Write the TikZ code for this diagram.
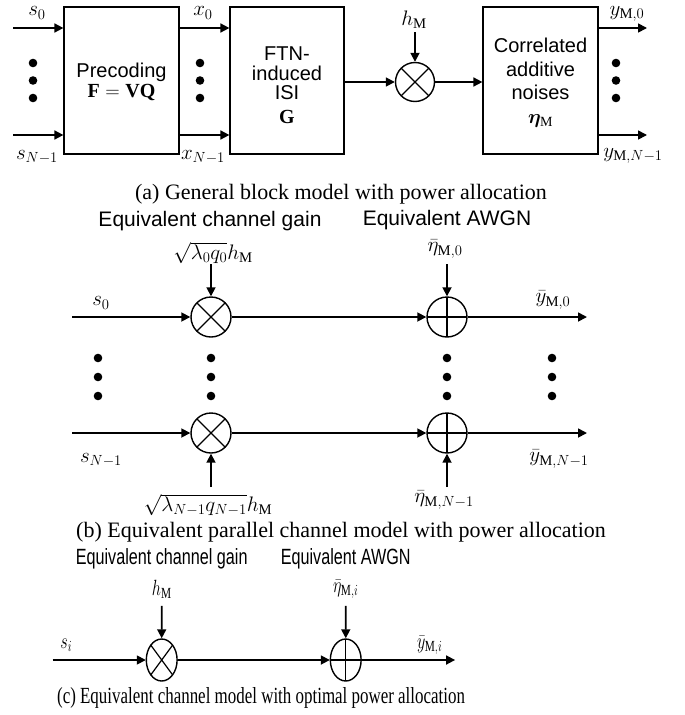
\RequirePackage{fix-cm}
\documentclass[tikz,border=0pt]{standalone}
\usepackage{amsmath,bm}
\usepackage{fontspec}
\setmainfont{Liberation Serif}
\newfontfamily\sansf{Liberation Sans}
\usetikzlibrary{arrows.meta,shapes.geometric}
\tikzset{
  blk/.style={draw, line width=1.2pt, minimum width=115pt, minimum height=147pt, inner sep=0pt},
  btxt/.style={inner sep=0pt, align=center},
  lbl/.style={inner sep=0pt, font=\fontsize{21}{25}\selectfont},
  head/.style={inner sep=0pt, font=\sansf\fontsize{21}{25}\selectfont},
  captxt/.style={inner sep=0pt, font=\fontsize{22}{26}\selectfont},
  arr/.style={line width=1.7pt, -{Triangle[length=9pt,width=9pt]}},
  mult/.style={circle, draw, line width=1.4pt, minimum size=40pt, inner sep=0pt,
    path picture={\draw[line width=1.2pt] (path picture bounding box.south west) -- (path picture bounding box.north east)
      (path picture bounding box.north west) -- (path picture bounding box.south east);}},
  adder/.style={circle, draw, line width=1.4pt, minimum size=40pt, inner sep=0pt,
    path picture={\draw[line width=1.2pt] (path picture bounding box.north) -- (path picture bounding box.south)
      (path picture bounding box.west) -- (path picture bounding box.east);}},
  dotc/.style={fill=black}
}
\begin{document}
\begin{tikzpicture}[x=1pt,y=-1pt]
\useasboundingbox[fill=white] (0,0) rectangle (685,715);
% ---------------- (a) ----------------
\node[blk] (b1) at (121.5,80.5) {};
\node[blk, minimum width=114pt] (b2) at (287,80.5) {};
\node[blk] (b3) at (540.5,80.5) {};
\node[btxt, font=\sansf\fontsize{20}{20}\selectfont] (t1) at (121.5,82) {Precoding\\$\mathbf{F}=\mathbf{VQ}$};
\node[btxt, font=\sansf\fontsize{20}{19.5}\selectfont] (t2) at (287,85) {FTN-\\induced\\ISI\\[4pt]$\mathbf{G}$};
\node[btxt, font=\sansf\fontsize{20}{23.5}\selectfont] (t3) at (540.5,82.5) {Correlated\\additive\\noises\\$\boldsymbol{\eta}_{\mathrm{M}}$};
\node[mult, minimum size=39pt] (m1) at (415,82) {};
\coordinate (in0) at (13,28);
\coordinate (in1) at (13,135);
\coordinate (out0) at (647,28);
\coordinate (out1) at (647,135);
\coordinate (hin) at (415,32);
\draw[arr] (in0) -- (in0 -| b1.west);
\draw[arr] (in1) -- (in1 -| b1.west);
\draw[arr] (b1.east |- in0) -- (b2.west |- in0);
\draw[arr] (b1.east |- in1) -- (b2.west |- in1);
\draw[arr] (b2.east |- m1) -- (m1);
\draw[arr] (hin) -- (m1);
\draw[arr] (m1) -- (b3.west |- m1);
\draw[arr] (b3.east |- out0) -- (out0);
\draw[arr] (b3.east |- out1) -- (out1);
\node[lbl] (ls0) at (37,13) {$s_0$};
\node[lbl] (ls1) at (37,157) {$s_{N-1}$};
\node[lbl] (lx0) at (203,13) {$x_0$};
\node[lbl] (lx1) at (203,157) {$x_{N-1}$};
\node[lbl] (lh) at (414,20) {$h_{\mathrm{M}}$};
\node[lbl] (ly0) at (627,14) {$y_{\mathrm{M},0}$};
\node[lbl] (ly1) at (633,156) {$y_{\mathrm{M},N-1}$};
\foreach \xx in {33,200,616}{\foreach \yy in {63,80.5,98}{\fill[dotc] (\xx,\yy) circle (4.3pt);}}
\node[captxt] (capa) at (341,194) {(a) General block model with power allocation};
% ---------------- (b) ----------------
\node[head] (hb1) at (210,221) {Equivalent channel gain};
\node[head] (hb2) at (447,220) {Equivalent AWGN};
\node[mult] (m2) at (211,317) {};
\node[adder] (a2) at (447,317) {};
\node[mult] (m3) at (211,433) {};
\node[adder] (a3) at (447,433) {};
\coordinate (bi0) at (72,317);
\coordinate (bi1) at (72,433);
\coordinate (bo0) at (587,317);
\coordinate (bo1) at (587,433);
\coordinate (g0) at (211,264);
\coordinate (n0) at (447,264);
\coordinate (g1) at (211,487);
\coordinate (n1) at (447,487);
\draw[arr] (bi0) -- (m2);
\draw[arr] (bi1) -- (m3);
\draw[arr] (m2) -- (a2);
\draw[arr] (m3) -- (a3);
\draw[arr] (a2) -- (bo0);
\draw[arr] (a3) -- (bo1);
\draw[arr] (g0) -- (m2);
\draw[arr] (n0) -- (a2);
\draw[arr] (g1) -- (m3);
\draw[arr] (n1) -- (a3);
\node[lbl] (lbs0) at (101,303) {$s_0$};
\node[lbl] (lbs1) at (101,460) {$s_{N-1}$};
\node[lbl] (lg0) at (213,253) {$\sqrt{\lambda_0q_0}h_{\mathrm{M}}$};
\node[lbl] (lg1) at (208,505) {$\sqrt{\lambda_{N-1}q_{N-1}}h_{\mathrm{M}}$};
\node[lbl] (ln0) at (445,249) {$\bar{\eta}_{\mathrm{M},0}$};
\node[lbl] (ln1) at (444,500) {$\bar{\eta}_{\mathrm{M},N-1}$};
\node[lbl] (lyb0) at (553,300) {$\bar{y}_{\mathrm{M},0}$};
\node[lbl] (lyb1) at (559,459) {$\bar{y}_{\mathrm{M},N-1}$};
\foreach \xx in {98,211,447,552}{\foreach \yy in {358,377,396}{\fill[dotc] (\xx,\yy) circle (4.3pt);}}
\node[captxt] (capb) at (341,532) {(b) Equivalent parallel channel model with power allocation};
% ---------------- (c) ----------------
\begin{scope}[shift={(0,660)}, xscale=0.77, yscale=1.05, transform shape]
\node[head] (hc1) at (210,-96) {Equivalent channel gain};
\node[head] (hc2) at (449,-96) {Equivalent AWGN};
\node[mult] (m4) at (210,0) {};
\node[adder] (a4) at (449,0) {};
\coordinate (ci) at (68.4,0);
\coordinate (co) at (591,0);
\coordinate (cg) at (210,-51.5);
\coordinate (cn) at (449,-51.5);
\draw[arr] (ci) -- (m4);
\draw[arr] (m4) -- (a4);
\draw[arr] (a4) -- (co);
\draw[arr] (cg) -- (m4);
\draw[arr] (cn) -- (a4);
\node[lbl] (lcs) at (86,-14) {$s_i$};
\node[lbl] (lch) at (210,-67) {$h_{\mathrm{M}}$};
\node[lbl] (lcn) at (449,-67) {$\bar{\eta}_{\mathrm{M},i}$};
\node[lbl] (lcy) at (558,-14) {$\bar{y}_{\mathrm{M},i}$};
\node[captxt] (capc) at (339,36) {(c) Equivalent channel model with optimal power allocation};
\end{scope}
\end{tikzpicture}
\end{document}
